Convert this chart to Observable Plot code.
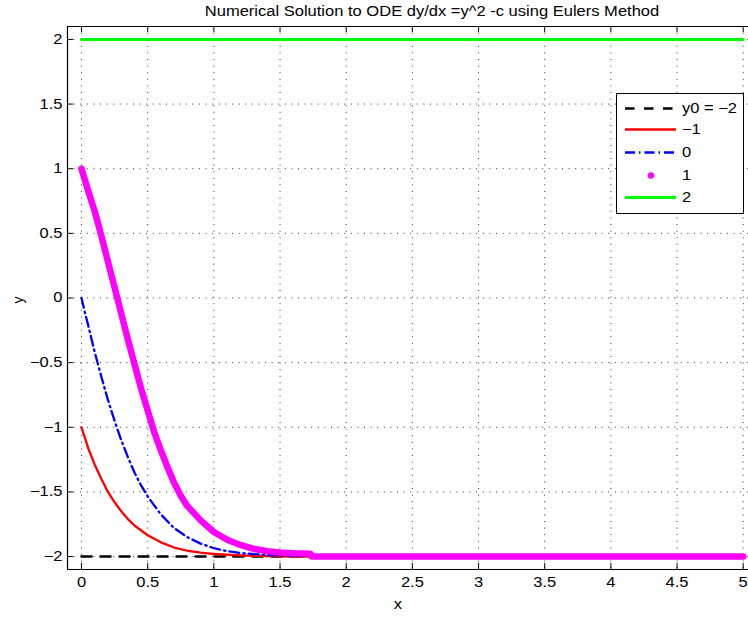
<!DOCTYPE html>
<html><head><meta charset="utf-8">
<script src="https://cdn.jsdelivr.net/npm/d3@7"></script>
<script src="https://cdn.jsdelivr.net/npm/@observablehq/plot@0.6"></script>
<style>
body{margin:0;background:#fff;font-family:"Liberation Sans",Arial,Helvetica,sans-serif;}
#wrap{position:relative;width:748px;height:617px;overflow:hidden;background:#fff;}
.lbl{position:absolute;color:#000;font-size:14px;white-space:nowrap;}
</style></head>
<body><div id="wrap"></div>
<script>
// Tick values
const xTicks = [0, 0.5, 1, 1.5, 2, 2.5, 3, 3.5, 4, 4.5, 5];
const yTicks = [-2, -1.5, -1, -0.5, 0, 0.5, 1, 1.5, 2];

// Series: y0 = -2
const s0X = [0, 5];
const s0Y = [-2, -2];
// y0 = -1
const s1X = [0, 0.05, 0.1, 0.15, 0.2, 0.25, 0.3, 0.35, 0.4, 0.5, 0.6, 0.7, 0.8, 0.9, 1.0, 1.2, 1.4, 1.6, 2, 5];
const s1Y = [-1, -1.16, -1.29, -1.40, -1.50, -1.58, -1.65, -1.71, -1.76, -1.835, -1.89, -1.93, -1.955, -1.97, -1.98, -1.99, -1.996, -2, -2, -2];
// y0 = 0
const s2X = [0, 0.025, 0.05, 0.1, 0.15, 0.2, 0.25, 0.3, 0.35, 0.4, 0.45, 0.5, 0.6, 0.7, 0.8, 0.9, 1.0, 1.1, 1.2, 1.4, 1.6, 1.8, 2, 5];
const s2Y = [0, -0.11, -0.21, -0.42, -0.61, -0.79, -0.95, -1.10, -1.23, -1.35, -1.45, -1.535, -1.675, -1.78, -1.85, -1.90, -1.935, -1.958, -1.973, -1.988, -1.995, -1.998, -2, -2];
// y0 = 1
const s3X = [0, 0.05, 0.1, 0.15, 0.2, 0.25, 0.3, 0.35, 0.4, 0.45, 0.5, 0.55, 0.6, 0.65, 0.7, 0.75, 0.8, 0.9, 1.0, 1.1, 1.2, 1.3, 1.4, 1.5, 1.6, 1.73, 1.74, 5];
const s3Y = [1, 0.83, 0.67, 0.48, 0.28, 0.08, -0.12, -0.32, -0.51, -0.70, -0.87, -1.04, -1.18, -1.31, -1.43, -1.53, -1.61, -1.72, -1.81, -1.87, -1.91, -1.94, -1.958, -1.968, -1.974, -1.978, -2.0, -2.0];
// y0 = 2
const s4X = [0, 5];
const s4Y = [2, 2];

const legendLabels = ["y0 = \u22122", "\u22121", "0", "1", "2"];

const toPts = (xs, ys) => xs.map((x, i) => ({x, y: ys[i]}));
const fmt = d => (d < 0 ? "\u2212" + Math.abs(d) : String(d));
const STRETCH = 1.18;

const W = 748, H = 617, mL = 67, mR = 0, mT = 26, mB = 48;
const fw = W - mL - mR, fh = H - mT - mB;

const chart = Plot.plot({
  width: W, height: H,
  marginLeft: mL, marginRight: mR, marginTop: mT, marginBottom: mB,
  x: {domain: [-0.106, 5.04], ticks: xTicks, tickSize: 0, tickPadding: 8, tickFormat: fmt, label: null},
  y: {domain: [-2.1, 2.1], ticks: yTicks, tickSize: 0, tickPadding: 5, tickFormat: fmt, label: null},
  style: {fontFamily: '"Liberation Sans",Arial,Helvetica,sans-serif', fontSize: "14px", color: "#000", background: "white", overflow: "visible"},
  marks: [
    // dotted grid
    Plot.ruleX(xTicks, {stroke: "#333", strokeWidth: 1, strokeDasharray: "1,5.6"}),
    Plot.ruleY(yTicks, {stroke: "#333", strokeWidth: 1, strokeDasharray: "1,5.6"}),
    // inward ticks
    Plot.ruleX(xTicks, {stroke: "#000", insetTop: fh - 6}),
    Plot.ruleX(xTicks, {stroke: "#000", insetBottom: fh - 6}),
    Plot.ruleY(yTicks, {stroke: "#000", insetRight: fw - 6}),
    // axes box
    Plot.ruleX([-0.106], {stroke: "#000", strokeWidth: 1.2}),
    Plot.ruleY([-2.1, 2.1], {stroke: "#000", strokeWidth: 1.2}),
    // series
    Plot.line(toPts(s0X, s0Y), {x: "x", y: "y", stroke: "#000", strokeWidth: 2.5, strokeDasharray: "10,9"}),
    Plot.line(toPts(s1X, s1Y), {x: "x", y: "y", stroke: "#ff0000", strokeWidth: 2.3}),
    Plot.line(toPts(s2X, s2Y), {x: "x", y: "y", stroke: "#0000ff", strokeWidth: 2.3, strokeDasharray: "10,4,1.5,4"}),
    Plot.line(toPts(s3X, s3Y), {x: "x", y: "y", stroke: "#ff00ff", strokeWidth: 6.5, strokeLinecap: "round", strokeLinejoin: "round"}),
    Plot.line(toPts(s4X, s4Y), {x: "x", y: "y", stroke: "#00ff00", strokeWidth: 3})
  ]
});
// stretch tick label text horizontally to match reference glyph widths
chart.querySelectorAll("text").forEach(t => {
  const tr = t.getAttribute("transform") || "";
  t.setAttribute("transform", (tr + ` scale(${STRETCH},1)`).trim());
});
const wrap = document.getElementById("wrap");
wrap.appendChild(chart);

// Title and axis labels
function label(text, css) {
  const d = document.createElement("div");
  d.className = "lbl";
  d.textContent = text;
  Object.assign(d.style, css);
  wrap.appendChild(d);
  return d;
}
label("Numerical Solution to ODE dy/dx =y^2 -c using Eulers Method", {left: "432px", top: "3px", transform: `translateX(-50%) scaleX(${STRETCH})`, fontSize: "14px"});
label("x", {left: "398px", top: "596px", transform: `translateX(-50%) scaleX(${STRETCH})`, fontSize: "14px"});
label("y", {left: "18px", top: "300px", transform: "translate(-50%,-50%) rotate(-90deg)", fontSize: "14px"});

// Legend
const ns = "http://www.w3.org/2000/svg";
const lg = document.createElementNS(ns, "svg");
lg.setAttribute("width", 128); lg.setAttribute("height", 121);
Object.assign(lg.style, {position: "absolute", left: "615.5px", top: "92.5px"});
const styles = [
  {stroke: "#000", w: 2.5, dash: "9.5,9.5"},
  {stroke: "#ff0000", w: 2.3},
  {stroke: "#0000ff", w: 2.3, dash: "10,4,1.5,4"},
  {dot: "#ff00ff"},
  {stroke: "#00ff00", w: 3}
];
let html = `<rect x="0.5" y="0.5" width="127" height="120" fill="#fff" stroke="#000" stroke-width="1"/>`;
const rowY = [15.5, 36.5, 59.5, 82.5, 104.5];
styles.forEach((s, i) => {
  const yy = rowY[i];
  if (s.dot) html += `<circle cx="35" cy="${yy}" r="3.2" fill="${s.dot}"/>`;
  else html += `<line x1="9" x2="60" y1="${yy}" y2="${yy}" stroke="${s.stroke}" stroke-width="${s.w}" ${s.dash ? `stroke-dasharray="${s.dash}"` : ""}/>`;
  html += `<text x="66" y="${yy + 5}" font-size="14" font-family="Liberation Sans,Arial,sans-serif" fill="#000" transform="translate(66,0) scale(${STRETCH},1) translate(-66,0)">${legendLabels[i]}</text>`;
});
lg.innerHTML = html;
wrap.appendChild(lg);
</script>
</body></html>
